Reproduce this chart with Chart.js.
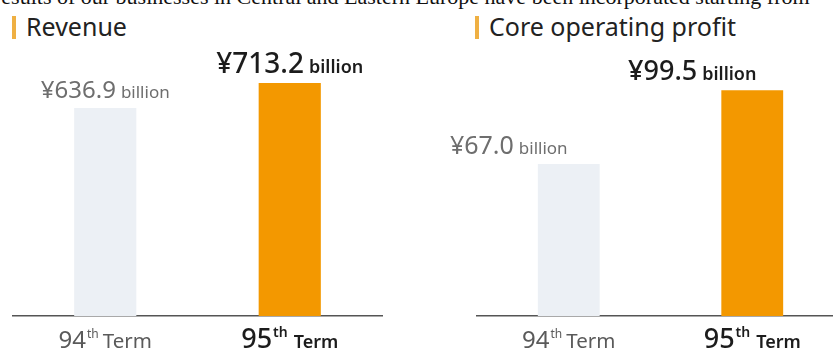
<!DOCTYPE html>
<html>
<head>
<meta charset="utf-8">
<script src="https://cdn.jsdelivr.net/npm/chart.js@4"></script>
<style>
  html, body { margin:0; padding:0; background:#fff; width:833px; height:354px; overflow:hidden; position:relative; }
  .top { position:absolute; left:-6px; top:-13px; white-space:nowrap; font:22px/20px "Liberation Serif", "Times New Roman", serif; color:#111; }
  .title { position:absolute; top:9px; font:25px/34px "Noto Sans", sans-serif; color:#222; white-space:nowrap; }
  .title span.mark { display:inline-block; width:4px; height:23px; background:#efb043; vertical-align:-3px; margin-right:10px; }
  canvas { position:absolute; top:0; }
</style>
</head>
<body>
<div class="top">results of our businesses in Central and Eastern Europe have been incorporated starting from</div>
<div class="title" style="left:12px;"><span class="mark"></span>Revenue</div>
<div class="title" style="left:475px;"><span class="mark"></span>Core operating profit</div>
<div style="position:absolute;left:0;top:0;width:420px;height:354px;"><canvas id="c1" width="420" height="354"></canvas></div>
<div style="position:absolute;left:420px;top:0;width:430px;height:354px;"><canvas id="c2" width="430" height="354"></canvas></div>
<script>
// ---- data ----
const categories = ['94th Term', '95th Term'];
const revenue = [636.9, 713.2];          // ¥ billion
const coreProfit = [67.0, 99.5];         // ¥ billion
const unitLabel = 'billion';
const barColors = ['#ecf0f5', '#f39800'];

const FONT = '"Noto Sans", sans-serif';

function drawParts(ctx, parts, cx, baseline) {
  let total = 0;
  parts.forEach(p => { ctx.font = p.font; p.w = ctx.measureText(p.text).width; total += p.w + (p.gap || 0); });
  let x = cx - total / 2;
  ctx.textBaseline = 'alphabetic';
  ctx.textAlign = 'left';
  parts.forEach(p => {
    x += (p.gap || 0);
    ctx.font = p.font;
    ctx.fillStyle = p.color;
    ctx.fillText(p.text, x, baseline - (p.rise || 0));
    x += p.w;
  });
}

const labelPlugin = {
  id: 'labels',
  afterDraw(chart, args, opts) {
    const ctx = chart.ctx;
    const meta = chart.getDatasetMeta(0);
    const data = chart.data.datasets[0].data;
    const xScale = chart.scales.x;
    ctx.save();
    meta.data.forEach((bar, i) => {
      const hi = i === data.length - 1;
      const vs = opts.valueSizes[i];
      const valueParts = [
        { text: '¥' + data[i].toFixed(1), font: (hi ? '500 ' : '400 ') + vs[0] + 'px ' + FONT, color: hi ? '#1c1c1c' : '#6e6e6e' },
        { text: unitLabel, gap: 5, font: (hi ? '600 ' : '400 ') + vs[1] + 'px ' + FONT, color: hi ? '#1c1c1c' : '#6e6e6e' }
      ];
      drawParts(ctx, valueParts, bar.x + opts.valueOffset, bar.y - 10);

      const cat = chart.data.labels[i];
      const m = cat.match(/^(\d+)(\D+?)\s+(.*)$/);
      const col = hi ? '#1c1c1c' : '#5a5a5a';
      const catParts = hi ? [
        { text: m[1], font: '500 27px ' + FONT, color: col },
        { text: m[2], gap: 1, font: '600 14px ' + FONT, color: col, rise: 11 },
        { text: m[3], gap: 6, font: '600 18px ' + FONT, color: col }
      ] : [
        { text: m[1], font: '400 24px ' + FONT, color: col },
        { text: m[2], gap: 1, font: '400 12px ' + FONT, color: col, rise: 10 },
        { text: m[3], gap: 4, font: '400 20.5px ' + FONT, color: col }
      ];
      drawParts(ctx, catParts, xScale.getPixelForValue(i), 348);
    });
    ctx.restore();
  }
};

function makeChart(id, values, yMax, padding, valueOffset, valueSizes) {
  return new Chart(document.getElementById(id), {
    type: 'bar',
    data: {
      labels: categories,
      datasets: [{ data: values, backgroundColor: barColors, borderWidth: 0,
                   barPercentage: 0.337, categoryPercentage: 1 }]
    },
    options: {
      responsive: false,
      animation: false,
      layout: { padding },
      plugins: { legend: { display: false }, tooltip: { enabled: false },
                 labels: { valueOffset, valueSizes } },
      scales: {
        x: { grid: { display: false, drawTicks: false }, ticks: { display: false },
             border: { display: true, color: '#555', width: 1.5 } },
        y: { display: false, min: 0, max: yMax }
      }
    },
    plugins: [labelPlugin]
  });
}

makeChart('c1', revenue, 800, { left: 13, right: 38, top: 54.7, bottom: 38 }, 0, [[24, 17], [28, 18]]);
makeChart('c2', coreProfit, 110, { left: 57, right: 6, top: 66.3, bottom: 38 }, -60, [[25, 17], [27, 18]]);
</script>
</body>
</html>
